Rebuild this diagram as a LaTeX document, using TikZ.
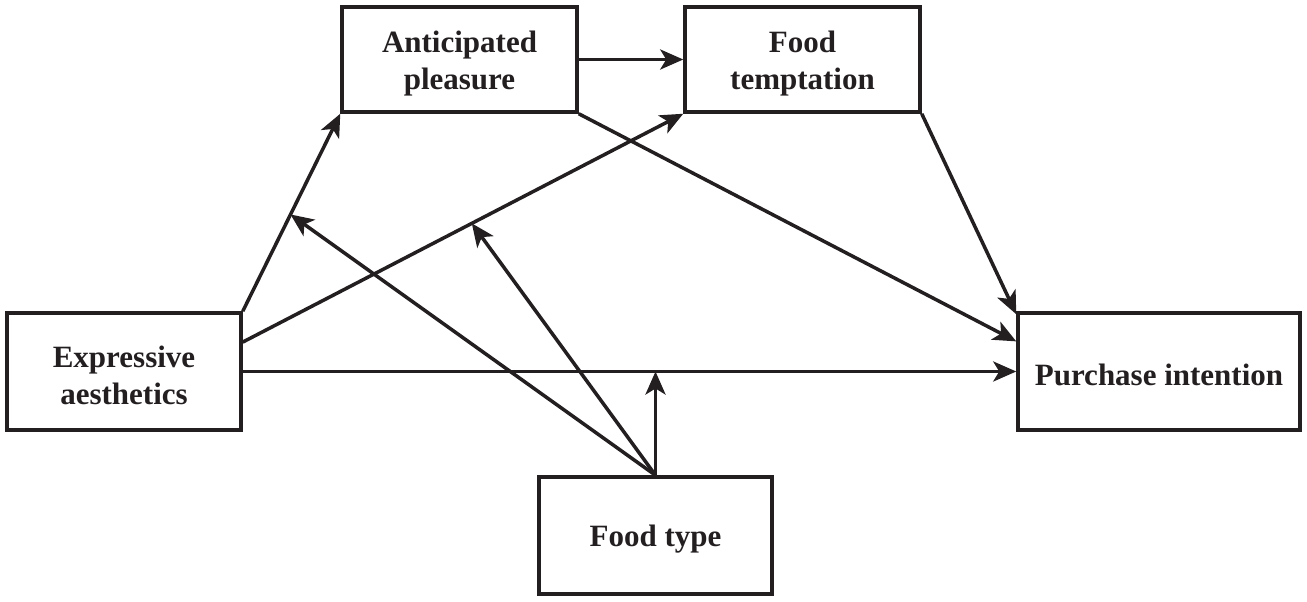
\documentclass[tikz,border=0pt]{standalone}
\usepackage{fontspec}
\setmainfont{Liberation Serif}
\usetikzlibrary{arrows.meta,calc}
\definecolor{ink}{HTML}{231F20}
\begin{document}
\begin{tikzpicture}[x=1pt,y=-1pt,
  box/.style={draw=ink,line width=3.5pt,rectangle,inner sep=0pt,align=center,
    font=\fontsize{31}{37}\selectfont\bfseries,text=ink},
  lbl/.style={align=center,inner sep=0pt,font=\fontsize{31}{37}\selectfont\bfseries,text=ink},
  conn/.style={draw=ink,line width=3.5pt,-{Stealth[length=23pt,width=20pt,inset=6pt]}}]
\useasboundingbox (0,0) rectangle (1307,602);
\node[box,minimum width=235pt,minimum height=105pt] (AP) at (459.5,59.5) {};
\node[box,minimum width=235pt,minimum height=105pt] (FT) at (802.5,59.5) {};
\node[box,minimum width=234pt,minimum height=117pt] (EA) at (124,371.5) {};
\node[box,minimum width=282pt,minimum height=117pt] (PI) at (1159,371.5) {};
\node[box,minimum width=233pt,minimum height=117pt] (FY) at (655.5,535.5) {};
\node[lbl] (APt) at ([yshift=-4pt]AP.center) {Anticipated\\pleasure};
\node[lbl] (FTt) at ([yshift=-4pt]FT.center) {Food\\temptation};
\node[lbl] (EAt) at ([yshift=-4pt]EA.center) {Expressive\\aesthetics};
\node[lbl] (PIt) at ([yshift=-3pt]PI.center) {Purchase intention};
\node[lbl] (FYt) at ([yshift=-4pt]FY.center) {Food type};
\coordinate (EA2) at ($(EA.north east)!0.256!(EA.south east)$);
\coordinate (PI2) at ($(PI.north west)!0.25!(PI.south west)$);
\draw[conn] (AP.east) -- (FT.west);
\draw[conn] (EA.north east) -- (AP.south west);
\draw[conn] (EA2) -- (FT.south west);
\draw[conn] (EA.east) -- (PI.west);
\draw[conn] (AP.south east) -- (PI2);
\draw[conn] (FT.south east) -- ([yshift=-3pt]PI.north west);
\coordinate (M1) at ($(EA.north east)!0.49!(AP.south west)$);
\coordinate (M2) at ($(EA2)!0.52!(FT.south west)$);
\coordinate (M3) at (FY.north |- EA.east);
\draw[conn] (FY.north) -- (M1);
\draw[conn] (FY.north) -- (M2);
\draw[conn] (FY.north) -- (M3);
\end{tikzpicture}
\end{document}
